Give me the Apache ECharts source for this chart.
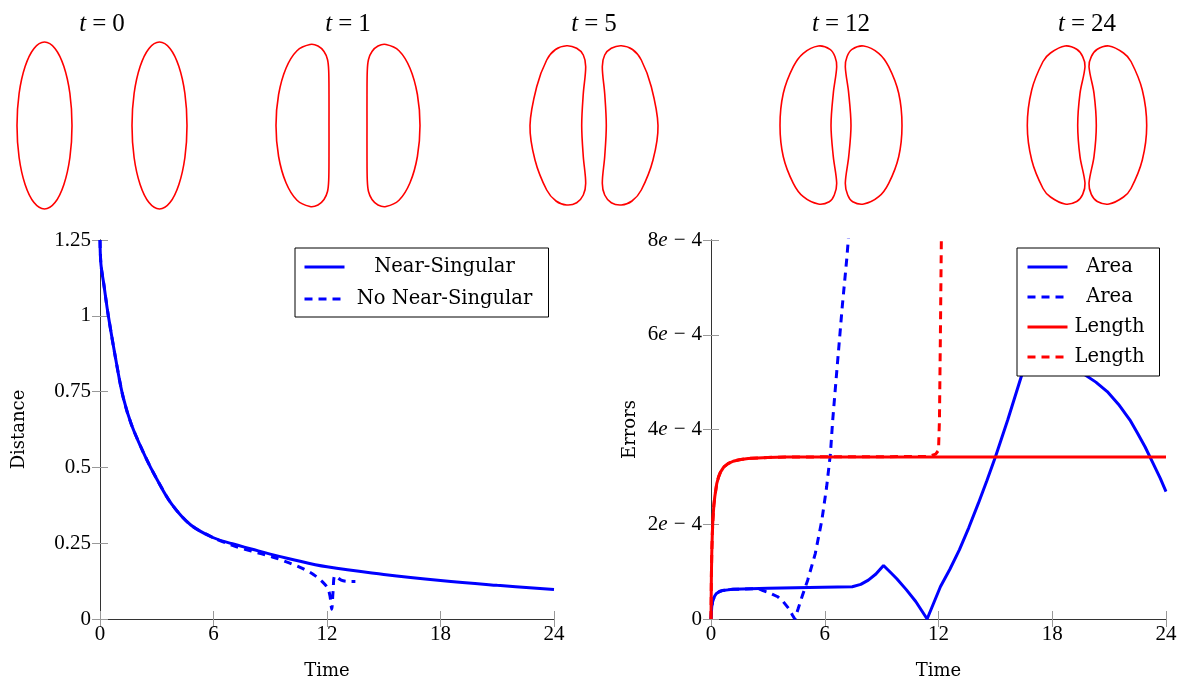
<!DOCTYPE html>
<html>
<head>
<meta charset="utf-8">
<script src="https://cdn.jsdelivr.net/npm/echarts@6/dist/echarts.min.js"></script>
<style>
html,body{margin:0;padding:0;background:#fff;}
#c{width:1182px;height:681px;}
</style>
</head>
<body>
<div id="c"></div>
<script>
// ---------- Data ----------
// Shape snapshots (left body contour; right body is its mirror image)
const shapeTimes = ['0', '1', '5', '12', '24'];
const shapeT0 = [[-30,0],[-32.1,32],[-38.1,59],[-47,77.1],[-57.5,83.5],[-68,77.1],[-76.9,59],[-82.9,32],[-85,0],[-82.9,-32],[-76.9,-59],[-68,-77.1],[-57.5,-83.5],[-47,-77.1],[-38.1,-59],[-32.1,-32]];
const shapeT1 = [[-19,0],[-19,30],[-19.3,55],[-20.5,66],[-24,74],[-30,79.5],[-38,81],[-51,74.8],[-62,57.3],[-69.4,31],[-72,0],[-69.4,-31],[-62,-57.3],[-51,-74.8],[-38,-81],[-30,-79.5],[-24,-74],[-20.5,-66],[-19.3,-55],[-19,-30]];
const shapeT5 = [[-12.3,0],[-10.7,32],[-8.3,58.8],[-10.7,70.5],[-17.3,77.2],[-27.3,79.8],[-38.5,76],[-47.3,65.5],[-57.3,38.8],[-64,0],[-59,-34.5],[-47.3,-64.5],[-38,-75.5],[-27.3,-79.5],[-17.3,-77.2],[-10.7,-69.5],[-8.3,-57.8],[-10.7,-31.2]];
const shapeT12 = [[-10,0],[-7.7,32.2],[-4.3,58.8],[-6,68.8],[-11,76.2],[-22.7,79.5],[-37.7,72.2],[-47.7,58.8],[-57.7,32.2],[-61,0],[-57.7,-31.2],[-47.7,-57.8],[-37.7,-71.2],[-22.7,-78.5],[-11.7,-76.2],[-6.7,-69.5],[-4.3,-57.8],[-7.7,-31.2]];
const shapeT24 = [[-9.3,0],[-7,32.2],[-2,58.8],[-4.3,68.8],[-10.3,76.2],[-22,79.5],[-36.5,72.5],[-44,64],[-55.3,35.5],[-59.7,0],[-55.3,-34.5],[-44,-63],[-36.5,-71.5],[-22,-78.5],[-10.3,-76],[-4.3,-68.8],[-2,-57.8],[-7,-31.2]];
const shapes = [shapeT0, shapeT1, shapeT5, shapeT12, shapeT24];

// Distance plot
const distTimeNS = [0,0.05,0.2,0.44,0.88,1.23,1.67,2.4,3.0,3.8,4.8,6.0,7.0,8.0,9.0,10.0,12.0,15.0,18.0,21.0,24.0];
const distNS     = [1.25,1.17,1.105,1.0,0.84,0.73,0.64,0.535,0.462,0.378,0.31,0.268,0.248,0.231,0.214,0.199,0.172,0.147,0.127,0.111,0.097];
const distTimeNo = [0,0.05,0.2,0.44,0.88,1.23,1.67,2.4,3.0,3.8,4.8,6.0,7.0,8.0,8.5,9.25,10.0,10.7,11.3,11.8,12.05,12.16,12.25,12.32,12.42,12.75,13.1,13.5];
const distNo     = [1.25,1.17,1.105,1.0,0.84,0.73,0.64,0.535,0.462,0.378,0.31,0.268,0.243,0.224,0.216,0.202,0.185,0.167,0.146,0.12,0.10,0.075,0.032,0.09,0.143,0.128,0.124,0.124];

// Error plot (values in units of 1e-4)
const areaTimeNS = [0,0.04,0.1,0.2,0.29,0.45,0.59,0.9,1.17,3.0,5.9,7.45,7.9,8.3,8.7,9.1,9.5,9.8,10.3,10.8,11.4,12.1,12.6,13.1,13.6,14.1,14.55,15.0,15.65,16.4,17.0,17.7,18.5,19.2,19.7,20.3,20.9,21.5,22.1,22.5,22.9,23.3,23.7,24.0];
const areaNS     = [0,0.26,0.4,0.49,0.54,0.58,0.6,0.615,0.626,0.647,0.668,0.68,0.73,0.82,0.95,1.13,0.97,0.85,0.62,0.37,0,0.68,1.05,1.46,1.93,2.44,2.92,3.42,4.2,5.16,5.55,5.7,5.6,5.35,5.16,5.0,4.8,4.53,4.2,3.92,3.63,3.3,2.97,2.69];
const areaTimeNo = [0,0.04,0.1,0.2,0.29,0.45,0.59,0.9,1.17,2.5,2.74,3.1,3.52,3.8,4.1,4.3,4.42,4.6,4.8,5.1,5.5,5.85,6.1,6.3,6.42,6.62,6.92,7.17,7.3];
const areaNo     = [0,0.26,0.4,0.49,0.54,0.58,0.6,0.615,0.626,0.64,0.6,0.55,0.47,0.37,0.22,0.08,0,0.22,0.47,0.82,1.38,2.09,2.79,3.49,4.2,5.16,6.58,7.64,8.3];
const lenTimeNS  = [0,0.02,0.04,0.07,0.1,0.15,0.2,0.3,0.4,0.5,0.68,0.9,1.17,1.5,1.96,3.0,4.0,24];
const lenNS      = [0,0.9,1.38,1.8,2.09,2.4,2.58,2.85,3.0,3.1,3.21,3.28,3.33,3.36,3.39,3.41,3.42,3.42];
const lenTimeNo  = [0,0.02,0.04,0.07,0.1,0.15,0.2,0.3,0.4,0.5,0.68,0.9,1.17,1.5,1.96,3.0,4.0,11.5,11.85,12.0,12.05,12.1,12.15,12.2];
const lenNo      = [0,0.9,1.38,1.8,2.09,2.4,2.58,2.85,3.0,3.1,3.21,3.28,3.33,3.36,3.39,3.41,3.42,3.43,3.48,3.56,4.2,6.0,8.0,8.6];

const timeTicks = [0, 24, 6];          // min, max, interval
const distTicks = [0, 1.25, 0.25];
const errTicks  = [0, 8, 2];           // x 1e-4

// ---------- Chart ----------
const zip = (a, b) => a.map((t, i) => [t, b[i]]);
const mirror = pts => pts.map(p => [-p[0], p[1]]);

const BLUE = '#0000ff', RED = '#ff0000';
const TICK_FONT = 'Liberation Serif';
const TEXT_FONT = 'DejaVu Serif';
const centers = [102, 348, 594, 841, 1087];

const grids = [], xAxes = [], yAxes = [], series = [];
centers.forEach((cx, i) => {
  grids.push({left: cx - 100, top: 35.5, width: 200, height: 180, outerBoundsMode: 'none', containLabel: false});
  xAxes.push({
    gridIndex: i, type: 'value', min: -100, max: 100, position: 'top',
    axisLine: {show: false}, axisTick: {show: false}, axisLabel: {show: false}, splitLine: {show: false},
    name: '{i|t}{o|=}{n|' + shapeTimes[i] + '}', nameLocation: 'middle', nameGap: -1,
    nameTextStyle: {rich: {
      i: {fontFamily: TICK_FONT, fontStyle: 'italic', fontSize: 25, color: '#000'},
      o: {fontFamily: TICK_FONT, fontSize: 25, color: '#000', padding: [0, 6]},
      n: {fontFamily: TICK_FONT, fontSize: 25, color: '#000'}
    }}
  });
  yAxes.push({gridIndex: i, type: 'value', min: -90, max: 90, show: false});
  [shapes[i], mirror(shapes[i])].forEach(s => series.push({
    type: 'custom', xAxisIndex: i, yAxisIndex: i, silent: true,
    data: [s[0]],
    renderItem: (params, api) => ({
      type: 'polygon',
      shape: {points: s.map(p => api.coord(p)), smooth: 0.33},
      style: {fill: 'none', stroke: RED, lineWidth: 1.6}
    })
  }));
});

const tickStyle = {show: true, inside: true, length: 8, lineStyle: {color: '#999', width: 1}};
const lineStyleAx = {show: true, lineStyle: {color: '#333', width: 1}};

function addPlot(gi, grid, yT, yName, yFmt) {
  grids.push(grid);
  const xi = xAxes.length, yi = yAxes.length;
  xAxes.push({
    gridIndex: gi, type: 'value', min: timeTicks[0], max: timeTicks[1], interval: timeTicks[2],
    axisLine: lineStyleAx, axisTick: tickStyle, splitLine: {show: false},
    axisLabel: {fontFamily: TICK_FONT, fontSize: 21, color: '#000', margin: 5},
    name: 'Time', nameLocation: 'middle', nameGap: 43,
    nameTextStyle: {fontFamily: TEXT_FONT, fontSize: 18, color: '#000'}
  });
  xAxes.push({
    gridIndex: gi, type: 'value', position: 'top', min: timeTicks[0], max: timeTicks[1], interval: timeTicks[2],
    axisLine: lineStyleAx, axisTick: tickStyle, axisLabel: {show: false}, splitLine: {show: false}
  });
  yAxes.push({
    gridIndex: gi, type: 'value', min: yT[0], max: yT[1], interval: yT[2],
    axisLine: lineStyleAx, axisTick: tickStyle, splitLine: {show: false},
    axisLabel: {fontFamily: TICK_FONT, fontSize: 21, color: '#000', margin: 9, formatter: yFmt,
      rich: {
        n: {fontFamily: TICK_FONT, fontSize: 21, color: '#000'},
        e: {fontFamily: TICK_FONT, fontSize: 21, color: '#000', fontStyle: 'italic'},
        m: {fontFamily: TICK_FONT, fontSize: 21, color: '#000', padding: [0, 6]}
      }},
    name: yName, nameLocation: 'middle', nameGap: 72, nameRotate: 90,
    nameTextStyle: {fontFamily: TEXT_FONT, fontSize: 18, color: '#000'}
  });
  yAxes.push({
    gridIndex: gi, type: 'value', position: 'right', min: yT[0], max: yT[1], interval: yT[2],
    axisLine: lineStyleAx, axisTick: tickStyle, axisLabel: {show: false}, splitLine: {show: false}
  });
  return [xi, yi];
}

const [lx, ly] = addPlot(5, {left: 100, top: 240, width: 454, height: 379, outerBoundsMode: 'none', containLabel: false}, distTicks, 'Distance', null);
const [rx, ry] = addPlot(6, {left: 711, top: 240, width: 455, height: 379, outerBoundsMode: 'none', containLabel: false}, errTicks, 'Errors',
  v => v === 0 ? '{n|0}' : '{n|' + v + '}{e|e}{m|−}{n|4}');

const dash = [8, 6];
series.push(
  {name: 'Near-Singular', type: 'line', xAxisIndex: lx, yAxisIndex: ly, data: zip(distTimeNS, distNS),
   smooth: 0.4, symbol: 'none', lineStyle: {color: BLUE, width: 3}, itemStyle: {color: BLUE}},
  {name: 'No Near-Singular', type: 'line', xAxisIndex: lx, yAxisIndex: ly, data: zip(distTimeNo, distNo),
   smooth: 0.3, symbol: 'none', lineStyle: {color: BLUE, width: 3, type: dash}, itemStyle: {color: BLUE}},
  {name: 'AreaNS', type: 'line', xAxisIndex: rx, yAxisIndex: ry, data: zip(areaTimeNS, areaNS),
   symbol: 'none', lineStyle: {color: BLUE, width: 3}, itemStyle: {color: BLUE}},
  {name: 'AreaNo', type: 'line', xAxisIndex: rx, yAxisIndex: ry, data: zip(areaTimeNo, areaNo),
   symbol: 'none', lineStyle: {color: BLUE, width: 3, type: dash}, itemStyle: {color: BLUE}},
  {name: 'LengthNS', type: 'line', xAxisIndex: rx, yAxisIndex: ry, data: zip(lenTimeNS, lenNS),
   symbol: 'none', lineStyle: {color: RED, width: 3}, itemStyle: {color: RED}},
  {name: 'LengthNo', type: 'line', xAxisIndex: rx, yAxisIndex: ry, data: zip(lenTimeNo, lenNo),
   symbol: 'none', lineStyle: {color: RED, width: 3, type: dash}, itemStyle: {color: RED}}
);

const legendLabels = {'Near-Singular': 'Near-Singular', 'No Near-Singular': 'No Near-Singular',
  AreaNS: 'Area', AreaNo: 'Area', LengthNS: 'Length', LengthNo: 'Length'};
const legendBase = (w) => ({
  orient: 'vertical', itemWidth: 40, itemHeight: 14, selectedMode: false,
  borderColor: '#000', borderWidth: 1, backgroundColor: '#fff', borderRadius: 0,
  itemStyle: {color: 'rgba(0,0,0,0)', borderColor: 'rgba(0,0,0,0)', borderWidth: 0},
  lineStyle: {width: 3},
  formatter: n => '{a|' + legendLabels[n] + '}',
  textStyle: {rich: {a: {width: w, align: 'center', fontFamily: TEXT_FONT, fontSize: 19.5, color: '#000', height: 22, lineHeight: 22}}}
});

const option = {
  animation: false,
  backgroundColor: '#fff',
  grid: grids,
  xAxis: xAxes,
  yAxis: yAxes,
  legend: [
    Object.assign(legendBase(190), {left: 295, top: 248, itemGap: 10, padding: [8, 9, 7, 8],
      data: ['Near-Singular', 'No Near-Singular']}),
    Object.assign(legendBase(74), {left: 1017, top: 248, itemGap: 8, padding: [8, 13, 8, 9],
      data: ['AreaNS', 'AreaNo', 'LengthNS', 'LengthNo']})
  ],
  series: series
};

const chart = echarts.init(document.getElementById('c'), null, {renderer: 'canvas'});
chart.setOption(option);
</script>
</body>
</html>
